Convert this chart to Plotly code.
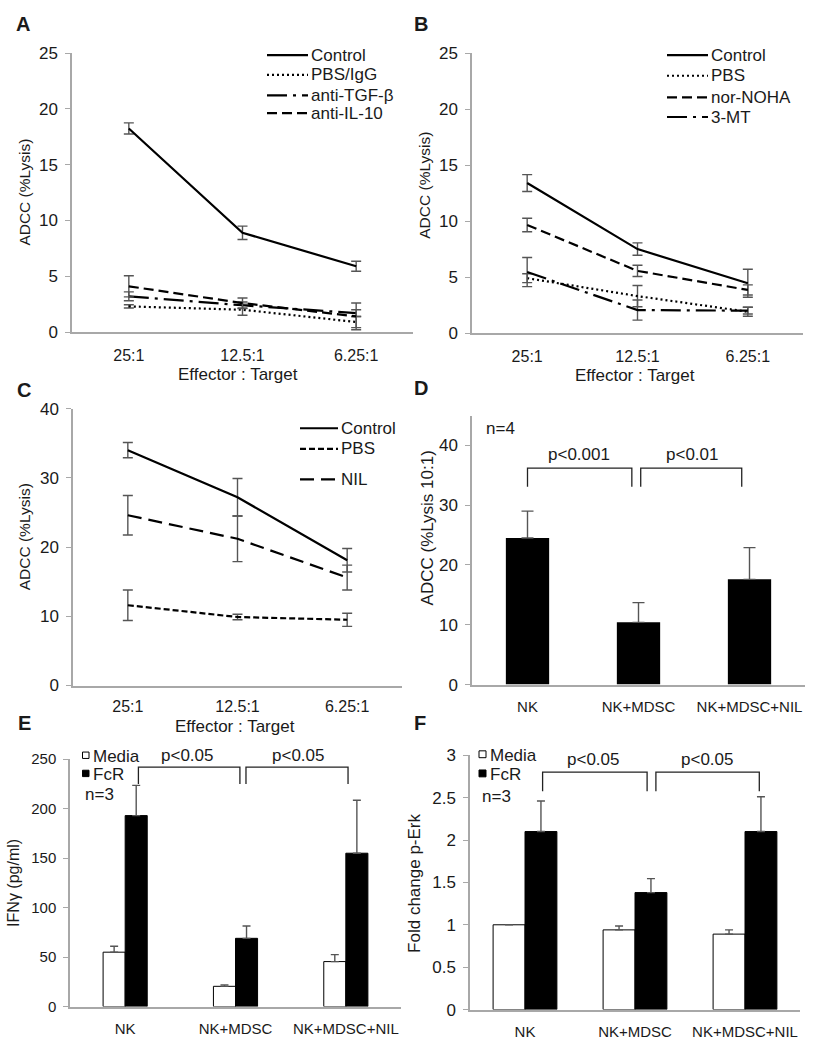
import plotly.graph_objects as go

W, H = 813, 1050

# ---------------- data ----------------
ratios = ["25:1", "12.5:1", "6.25:1"]
groups = ["NK", "NK+MDSC", "NK+MDSC+NIL"]

# Panel A
a_names = ["Control", "PBS/IgG", "anti-TGF-β", "anti-IL-10"]
a_control = [18.25, 8.9, 5.9]
a_control_err = [0.5, 0.6, 0.45]
a_pbs = [2.3, 2.0, 0.9]
a_pbs_err = [0.15, 0.5, 0.5]
a_tgf = [3.2, 2.4, 1.7]
a_tgf_err = [0.4, 0.3, 0.3]
a_il10 = [4.1, 2.6, 1.4]
a_il10_err = [0.95, 0.45, 1.2]

# Panel B
b_names = ["Control", "PBS", "nor-NOHA", "3-MT"]
b_control = [13.4, 7.5, 4.45]
b_control_err = [0.75, 0.55, 1.25]
b_pbs = [4.9, 3.3, 1.9]
b_pbs_err = [0.4, 0.95, 0.4]
b_nornoha = [9.65, 5.55, 3.85]
b_nornoha_err = [0.6, 0.5, 0.45]
b_3mt = [5.45, 2.05, 2.0]
b_3mt_err = [1.3, 0.9, 0.3]

# Panel C
c_names = ["Control", "PBS", "NIL"]
c_control = [34.0, 27.2, 18.1]
c_control_err = [1.1, 2.7, 1.7]
c_pbs = [11.6, 9.9, 9.5]
c_pbs_err = [2.2, 0.4, 0.95]
c_nil = [24.6, 21.2, 15.6]
c_nil_err = [2.85, 3.3, 1.8]

# Panel D
d_vals = [24.5, 10.4, 17.6]
d_err = [4.5, 3.3, 5.3]

# Panel E
bar_names = ["Media", "FcR"]
e_media = [55, 20.5, 45.5]
e_media_err = [6, 1.5, 7]
e_fcr = [193, 69, 155]
e_fcr_err = [30.5, 12.5, 53.5]

# Panel F
f_media = [1.0, 0.94, 0.89]
f_media_err = [0.0, 0.045, 0.05]
f_fcr = [2.1, 1.38, 2.1]
f_fcr_err = [0.36, 0.165, 0.41]

# significance brackets (x in category index units, y in data units)
d_br_x0 = [0.0, 1.02]
d_br_x1 = [0.94, 1.93]
d_br_top, d_br_foot = 36.2, 33.1
d_p_text = ["p<0.001", "p<0.01"]
d_p_x = [0.46, 1.48]
d_p_y = 38.4

e_br_x0 = [0.12, 1.095]
e_br_x1 = [1.04, 2.02]
e_br_top, e_br_foot = 242, 225
e_p_text = ["p<0.05", "p<0.05"]
e_p_x = [0.56, 1.57]

f_br_x0 = [0.16, 1.19]
f_br_x1 = [1.11, 2.13]
f_br_top, f_br_foot = 2.80, 2.575
f_p_text = ["p<0.05", "p<0.05"]
f_p_x = [0.62, 1.65]
f_p_y = 2.95

# ---------------- helpers ----------------
FONT = "Liberation Sans, Arial, Helvetica, sans-serif"
AXC = "#a8a8a8"
TXT = "#1a1a1a"
ERRC = "#555555"
xs = [0, 1, 2]


def xd(x0, x1):
    return [x0 / W, x1 / W]


def yd(ytop, ybot):
    return [1 - ybot / H, 1 - ytop / H]


def px(x):
    return x / W


def py(y):
    return 1 - y / H


fig = go.Figure()

DOT = "2px,3px"
DASH = "10px,5px"
LDD = "20px,6px,3px,6px"
C_PBS = "6px,3px"
C_NIL = "14px,7px"


def line_trace(y, err, name, dash, xa, ya):
    fig.add_trace(go.Scatter(
        x=xs, y=y, mode="lines", name=name, showlegend=False,
        line=dict(color="black", width=2.2, dash=dash),
        error_y=dict(type="data", array=err, visible=True, color=ERRC,
                     thickness=1.4, width=5),
        xaxis=xa, yaxis=ya))


a_dashes = ["solid", DOT, LDD, DASH]
b_dashes = ["solid", DOT, DASH, LDD]
c_dashes = ["solid", C_PBS, C_NIL]

for y, e, n, d in zip([a_control, a_pbs, a_tgf, a_il10],
                      [a_control_err, a_pbs_err, a_tgf_err, a_il10_err], a_names, a_dashes):
    line_trace(y, e, n, d, "x", "y")
for y, e, n, d in zip([b_control, b_pbs, b_nornoha, b_3mt],
                      [b_control_err, b_pbs_err, b_nornoha_err, b_3mt_err], b_names, b_dashes):
    line_trace(y, e, n, d, "x2", "y2")
for y, e, n, d in zip([c_control, c_pbs, c_nil],
                      [c_control_err, c_pbs_err, c_nil_err], c_names, c_dashes):
    line_trace(y, e, n, d, "x3", "y3")

# D
fig.add_trace(go.Bar(
    x=xs, y=d_vals, width=0.39, marker=dict(color="black", line=dict(width=0)),
    error_y=dict(type="data", array=d_err, arrayminus=[0, 0, 0], symmetric=False,
                 color=ERRC, thickness=1.4, width=6),
    xaxis="x4", yaxis="y4", showlegend=False))


def bar_pair(media, media_err, fcr, fcr_err, w, xa, ya):
    fig.add_trace(go.Bar(
        x=xs, y=media, name=bar_names[0], width=w, offset=-w, showlegend=False,
        marker=dict(color="white", line=dict(color="black", width=1)),
        error_y=dict(type="data", array=media_err, arrayminus=[0, 0, 0], symmetric=False,
                     color=ERRC, thickness=1.4, width=4),
        xaxis=xa, yaxis=ya))
    fig.add_trace(go.Bar(
        x=xs, y=fcr, name=bar_names[1], width=w, offset=0.0, showlegend=False,
        marker=dict(color="black", line=dict(color="black", width=1)),
        error_y=dict(type="data", array=fcr_err, arrayminus=[0, 0, 0], symmetric=False,
                     color=ERRC, thickness=1.4, width=4),
        xaxis=xa, yaxis=ya))


bar_pair(e_media, e_media_err, e_fcr, e_fcr_err, 0.2, "x5", "y5")
bar_pair(f_media, f_media_err, f_fcr, f_fcr_err, 0.29, "x6", "y6")


# ---------------- axes ----------------
def xaxis(dom, ticktext, size, ticklen=8):
    return dict(domain=dom, range=[-0.5, 2.5], tickvals=xs, ticktext=ticktext,
                showline=True, linecolor=AXC, linewidth=1.5, showgrid=False,
                zeroline=False, ticks="outside", ticklen=ticklen,
                tickcolor="rgba(0,0,0,0)", tickfont=dict(size=size, color=TXT),
                fixedrange=True)


def yaxis(dom, rng, dtick, size, tickvals=None):
    d = dict(domain=dom, range=rng, dtick=dtick, showline=True, linecolor=AXC,
             linewidth=1.5, showgrid=False, zeroline=False, ticks="outside",
             ticklen=5, tickcolor=AXC, tickwidth=1.2,
             tickfont=dict(size=size, color=TXT), ticklabelstandoff=4,
             fixedrange=True)
    if tickvals is not None:
        d["tickvals"] = tickvals
    return d


layout = dict(
    width=W, height=H, margin=dict(l=0, r=0, t=0, b=0),
    paper_bgcolor="white", plot_bgcolor="white",
    font=dict(family=FONT, color=TXT),
    barmode="overlay", showlegend=False,
    xaxis=xaxis(xd(72, 413), ratios, 16),
    yaxis=yaxis(yd(45, 329), [0, 25], 5, 17),
    xaxis2=xaxis(xd(472, 803), ratios, 16),
    yaxis2=yaxis(yd(45, 330), [0, 25], 5, 17),
    xaxis3=xaxis(xd(73, 402), ratios, 16, ticklen=6),
    yaxis3=yaxis(yd(407, 689), [0, 40], 10, 17),
    xaxis4=xaxis(xd(472, 805), groups, 15),
    yaxis4=yaxis(yd(414, 688), [0, 45], 10, 17, tickvals=[0, 10, 20, 30, 40]),
    xaxis5=xaxis(xd(70, 401), groups, 15),
    yaxis5=yaxis(yd(764, 1016), [0, 250], 50, 15),
    xaxis6=xaxis(xd(470, 800), groups, 15),
    yaxis6=yaxis(yd(760, 1019), [0, 3], 0.5, 17),
)
for i in range(2, 7):
    layout[f"xaxis{i}"]["anchor"] = f"y{i}"
    layout[f"yaxis{i}"]["anchor"] = f"x{i}"
fig.update_layout(**layout)

# ---------------- annotations / legends ----------------
ann = []
shapes = []


def text(x, y, s, size=17, bold=False, angle=0, xanchor="center", xref="paper", yref="paper"):
    ann.append(dict(x=x, y=y, text=("<b>%s</b>" % s) if bold else s, showarrow=False,
                    xref=xref, yref=yref, xanchor=xanchor, yanchor="middle",
                    textangle=angle, font=dict(size=size, color=TXT, family=FONT)))


for letter, (lx, ly) in zip("ABCDEF", [(23, 15), (421, 15), (24, 388), (421, 386), (24, 727), (420, 727)]):
    text(px(lx), py(ly), letter, size=20, bold=True)

text(px(25), py(187), "ADCC (%Lysis)", size=15.5, angle=-90)
text(px(425), py(180), "ADCC (%Lysis)", size=15.5, angle=-90)
text(px(24), py(538), "ADCC (%Lysis)", size=15.5, angle=-90)
text(px(427), py(529), "ADCC (%Lysis 10:1)", size=17, angle=-90)
text(px(14), py(890), "IFNγ (pg/ml)", size=16, angle=-90)
text(px(415), py(891), "Fold change p-Erk", size=17, angle=-90)

text(px(238), py(372), "Effector : Target", size=17)
text(px(635), py(373), "Effector : Target", size=17)
text(px(235), py(731), "Effector : Target", size=17)


def legend_lines(names, dashes, x0, x1, ys):
    for n, d, y in zip(names, dashes, ys):
        shapes.append(dict(type="line", xref="paper", yref="paper",
                           x0=px(x0), x1=px(x1), y0=py(y), y1=py(y),
                           line=dict(color="black", width=2.2, dash=d)))
        text(px(x1 + 1), py(y), n, size=17, xanchor="left")


legend_lines(a_names, a_dashes, 267, 308, [47, 67, 88, 106])
legend_lines(b_names, b_dashes, 667, 708, [47, 68, 90, 110])
legend_lines(c_names, c_dashes, 300, 338, [427, 448, 479])


def legend_boxes(x, ys, size):
    fills = ["white", "black"]
    for n, f, y in zip(bar_names, fills, ys):
        shapes.append(dict(type="rect", xref="paper", yref="paper",
                           x0=px(x), x1=px(x + size), y0=py(y + size / 2), y1=py(y - size / 2),
                           fillcolor=f, line=dict(color="black", width=1)))
        text(px(x + size + 1.5), py(y + 1), n, size=17, xanchor="left")


legend_boxes(82.5, [760, 778.5], 6.5)
legend_boxes(479, [759, 778.5], 7)


def brackets(xr, yr, x0s, x1s, top, foot):
    for a, b in zip(x0s, x1s):
        shapes.append(dict(type="path", xref=xr, yref=yr,
                           path=f"M {a},{foot} L {a},{top} L {b},{top} L {b},{foot}",
                           line=dict(color="#222", width=1.3)))


brackets("x4", "y4", d_br_x0, d_br_x1, d_br_top, d_br_foot)
for s, x in zip(d_p_text, d_p_x):
    text(x, d_p_y, s, size=17, xref="x4", yref="y4")
brackets("x5", "y5", e_br_x0, e_br_x1, e_br_top, e_br_foot)
for s, x in zip(e_p_text, e_p_x):
    text(x, py(760), s, size=17, xref="x5", yref="paper")
brackets("x6", "y6", f_br_x0, f_br_x1, f_br_top, f_br_foot)
for s, x in zip(f_p_text, f_p_x):
    text(x, f_p_y, s, size=17, xref="x6", yref="y6")

text(-0.39, 42.8, "n=4", size=17, xanchor="left", xref="x4", yref="y4")
text(-0.38, 214, "n=3", size=17, xanchor="left", xref="x5", yref="y5")
text(-0.41, 2.51, "n=3", size=17, xanchor="left", xref="x6", yref="y6")

fig.update_layout(annotations=ann, shapes=shapes)
fig.write_html("out.html", config={"displayModeBar": False},
               post_script="document.body.style.margin='0px';")
